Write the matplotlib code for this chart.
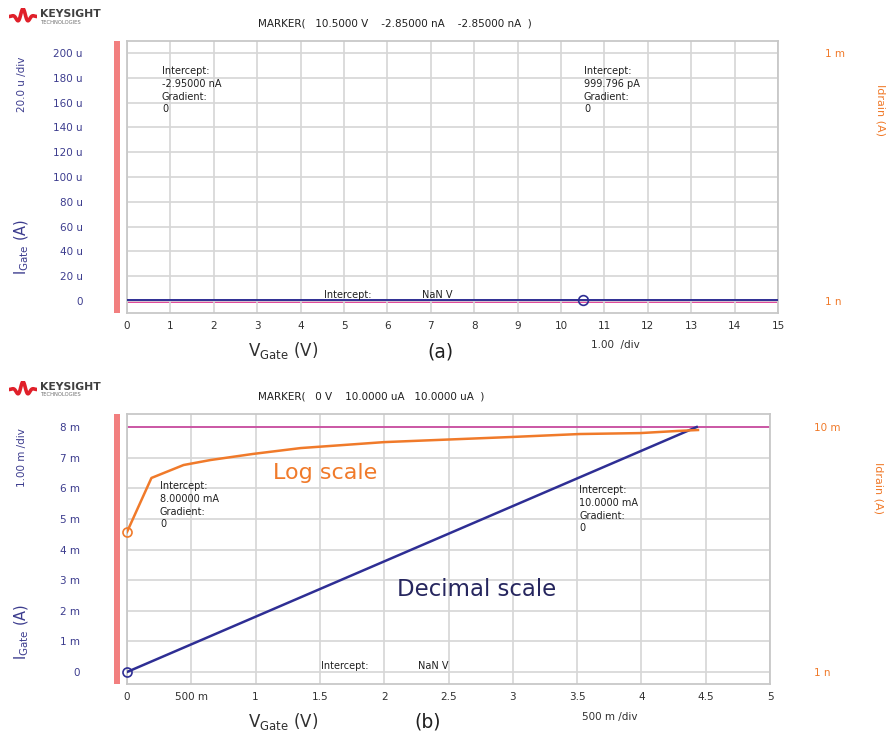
import numpy as np
import matplotlib
matplotlib.use("Agg")
import matplotlib.pyplot as plt
from matplotlib.patches import Rectangle
from matplotlib.ticker import FixedLocator, FixedFormatter, NullLocator
import matplotlib.transforms as mtransforms

# ---------------- data ----------------
# panel (a)
a_vgate = [0, 15]
a_igate = [-2.85e-9, -2.85e-9]
a_marker_v = 10.5
a_marker_i = -2.85e-9
a_intercept_left = -2.95e-9
a_intercept_right = 999.796e-12
a_xticks = list(range(0, 16))
a_xticklabels = [str(v) for v in a_xticks]
a_yticks = [0, 20e-6, 40e-6, 60e-6, 80e-6, 100e-6, 120e-6, 140e-6, 160e-6, 180e-6, 200e-6]
a_yticklabels = ["0", "20 u", "40 u", "60 u", "80 u", "100 u", "120 u", "140 u", "160 u", "180 u", "200 u"]
a_rticks = [1e-9, 1e-3]
a_rticklabels = ["1 n", "1 m"]

# panel (b)
b_vgate_lin = [0, 4.43]
b_igate_lin = [0, 8.0e-3]
b_vgate_log = [0, 0.19, 0.44, 0.65, 0.98, 1.35, 2.0, 3.0, 3.52, 3.99, 4.28, 4.44]
b_idrain_log = [1.0e-5, 3.5e-4, 8.2e-4, 1.14e-3, 1.7e-3, 2.5e-3, 3.7e-3, 5.2e-3, 6.3e-3, 6.7e-3, 7.7e-3, 8.2e-3]
b_intercept_left = 8.0e-3
b_xticks = [0, 0.5, 1, 1.5, 2, 2.5, 3, 3.5, 4, 4.5, 5]
b_xticklabels = ["0", "500 m", "1", "1.5", "2", "2.5", "3", "3.5", "4", "4.5", "5"]
b_yticks = [0, 1e-3, 2e-3, 3e-3, 4e-3, 5e-3, 6e-3, 7e-3, 8e-3]
b_yticklabels = ["0", "1 m", "2 m", "3 m", "4 m", "5 m", "6 m", "7 m", "8 m"]
b_rticks = [1e-9, 1e-2]
b_rticklabels = ["1 n", "10 m"]

# ---------------- style ----------------
W, H = 892, 740
BLUE = "#2e2e94"
NAVY = "#3c3c8e"
ORANGE = "#f07a2a"
MAGENTA = "#c8409c"
PINK = "#e0449a"
GRID = "#d6d6d6"
REDBAR = "#f27f7f"
DARK = "#303030"

plt.rcParams['font.family'] = ['DejaVu Sans']

fig = plt.figure(figsize=(W / 100, H / 100), dpi=100)
fig.patch.set_facecolor("white")


def frect(x0, y0, x1, y1):
    return [x0 / W, 1 - y1 / H, (x1 - x0) / W, (y1 - y0) / H]


def ftext(x, y, s, **kw):
    return fig.text(x / W, 1 - y / H, s, **kw)


def style_main(ax, xticks, xlabels, yticks, ylabels, xlim, ylim, ypad):
    ax.set_xlim(*xlim)
    ax.set_ylim(*ylim)
    ax.xaxis.set_major_locator(FixedLocator(xticks))
    ax.xaxis.set_major_formatter(FixedFormatter(xlabels))
    ax.yaxis.set_major_locator(FixedLocator(yticks))
    ax.yaxis.set_major_formatter(FixedFormatter(ylabels))
    ax.grid(True, color=GRID, lw=1.2)
    ax.set_axisbelow(True)
    for sp in ax.spines.values():
        sp.set_color("#c8c8c8")
        sp.set_linewidth(1.3)
    ax.tick_params(axis='x', length=0, pad=5.5, labelsize=7.5, labelcolor=DARK)
    ax.tick_params(axis='y', length=0, pad=ypad, labelsize=7.5, labelcolor=NAVY)


def style_twin(ax, ticks, labels, ylim, pad):
    ax.set_yscale("log")
    ax.set_ylim(*ylim)
    ax.yaxis.set_major_locator(FixedLocator(ticks))
    ax.yaxis.set_major_formatter(FixedFormatter(labels))
    ax.yaxis.set_minor_locator(NullLocator())
    ax.tick_params(axis='y', which='both', length=0, pad=pad, labelsize=7.5, labelcolor=ORANGE)
    for sp in ax.spines.values():
        sp.set_visible(False)


def redbar(ax, width_px):
    ax.add_patch(Rectangle((-13.5 / width_px, 0), 6.5 / width_px, 1, transform=ax.transAxes,
                           facecolor=REDBAR, edgecolor="none", clip_on=False, zorder=5))


def logo(y):
    lx = np.linspace(0, 1, 80)
    ly = np.sin(lx * 5 * np.pi) * np.exp(-((lx - 0.5) ** 2) / 0.06)
    lax = fig.add_axes(frect(9, y - 9, 37, y + 8))
    lax.plot(lx, ly, color="#e0202a", lw=2.6, solid_capstyle="round")
    lax.set_xlim(0, 1)
    lax.set_ylim(-1.1, 1.1)
    lax.axis("off")
    ftext(40, y - 3, "KEYSIGHT", fontsize=7.8, fontweight="bold", color="#404040", va="center")
    ftext(41, y + 5, "TECHNOLOGIES", fontsize=3.8, color="#707070", va="center")


def note(x, y, s):
    ftext(x, y, s, fontsize=7, color="#202020", va="top", ha="left", linespacing=1.35)


# ================= panel (a) =================
axA = fig.add_axes(frect(127, 41, 778, 313))
a_span = a_yticks[-1] - a_yticks[0]
a_m = a_span * 12 / 248
style_main(axA, a_xticks, a_xticklabels, a_yticks, a_yticklabels,
           (a_xticks[0], a_xticks[-1]), (a_yticks[0] - a_m, a_yticks[-1] + a_m), 32)
redbar(axA, 651)

axA2 = axA.twinx()
a_dec = np.log10(a_rticks[-1]) - np.log10(a_rticks[0])
a_dm = a_dec * 12 / 248
style_twin(axA2, a_rticks, a_rticklabels,
           (10 ** (np.log10(a_rticks[0]) - a_dm), 10 ** (np.log10(a_rticks[-1]) + a_dm)), 34)
axA2.set_xlim(axA.get_xlim())
pink_tr = mtransforms.offset_copy(axA2.transData, fig=fig, x=0, y=-1.1, units='dots')
axA2.plot([a_xticks[0], a_xticks[-1]], [a_intercept_right, a_intercept_right], color=PINK, lw=1.4,
          transform=pink_tr, zorder=2)

blue_tr = mtransforms.offset_copy(axA.transData, fig=fig, x=0, y=0.6, units='dots')
axA.set_zorder(axA2.get_zorder() + 1)
axA.patch.set_visible(False)
axA.plot(a_vgate, a_igate, color=BLUE, lw=1.4, transform=blue_tr, zorder=3)
axA.plot([a_marker_v], [a_marker_i], marker="o", ms=7, mfc="none", mec=BLUE, mew=1.2,
         transform=blue_tr, zorder=4)

logo(17)
ftext(258, 24, "MARKER(   10.5000 V    -2.85000 nA    -2.85000 nA  )", fontsize=7.5, color="#202020", va="center")
note(162, 66, "Intercept:\n-2.95000 nA\nGradient:\n0")
note(584, 66, "Intercept:\n999.796 pA\nGradient:\n0")
ftext(324, 295, "Intercept:", fontsize=7, color="#202020", va="center")
ftext(422, 295, "NaN V", fontsize=7, color="#202020", va="center")
ftext(22, 84, "20.0 u /div", fontsize=7.5, color=NAVY, rotation=90, ha="center", va="center")
ftext(22, 247, r"I$_{\mathregular{Gate}}$ (A)", fontsize=10.5, color=NAVY, rotation=90, ha="center", va="center")
ftext(880, 110, "Idrain (A)", fontsize=8, color=ORANGE, rotation=-90, ha="center", va="center")
ftext(283, 351, r"V$_{\mathregular{Gate}}$ (V)", fontsize=12, color=DARK, ha="center", va="center")
ftext(440, 352, "(a)", fontsize=13.5, color="#202020", ha="center", va="center")
ftext(615, 345, "1.00  /div", fontsize=7.5, color=DARK, ha="center", va="center")

# ================= panel (b) =================
axB = fig.add_axes(frect(127, 414, 770, 684))
b_unit = (b_yticks[-1] - b_yticks[0]) / 245
style_main(axB, b_xticks, b_xticklabels, b_yticks, b_yticklabels,
           (b_xticks[0], b_xticks[-1]), (b_yticks[0] - 12 * b_unit, b_yticks[-1] + 13 * b_unit), 34)
redbar(axB, 643)

axB2 = axB.twinx()
b_dpp = (np.log10(b_rticks[-1]) - np.log10(b_rticks[0])) / 245
style_twin(axB2, b_rticks, b_rticklabels,
           (10 ** (np.log10(b_rticks[0]) - 12 * b_dpp), 10 ** (np.log10(b_rticks[-1]) + 13 * b_dpp)), 32)
axB2.set_xlim(axB.get_xlim())

axB.axhline(b_intercept_left, color=MAGENTA, lw=1.2, zorder=2)
axB.plot(b_vgate_lin, b_igate_lin, color=BLUE, lw=1.8, zorder=3)
axB.plot([b_vgate_lin[0]], [b_igate_lin[0]], marker="o", ms=6.5, mfc="none", mec=BLUE, mew=1.2, zorder=4,
         clip_on=False)
axB2.plot(b_vgate_log, b_idrain_log, color=ORANGE, lw=1.8, zorder=3)
axB2.plot([b_vgate_log[0]], [b_idrain_log[0]], marker="o", ms=6.5, mfc="none", mec=ORANGE, mew=1.2,
          zorder=4, clip_on=False)

logo(390)
ftext(258, 397, "MARKER(   0 V    10.0000 uA   10.0000 uA  )", fontsize=7.5, color="#202020", va="center")
note(160, 481, "Intercept:\n8.00000 mA\nGradient:\n0")
note(579, 485, "Intercept:\n10.0000 mA\nGradient:\n0")
ftext(321, 666, "Intercept:", fontsize=7, color="#202020", va="center")
ftext(418, 666, "NaN V", fontsize=7, color="#202020", va="center")
ftext(273, 473, "Log scale", fontsize=16, color=ORANGE, ha="left", va="center")
ftext(397, 590, "Decimal scale", fontsize=16.5, color="#26265e", ha="left", va="center")
ftext(22, 458, "1.00 m /div", fontsize=7.5, color=NAVY, rotation=90, ha="center", va="center")
ftext(22, 632, r"I$_{\mathregular{Gate}}$ (A)", fontsize=10.5, color=NAVY, rotation=90, ha="center", va="center")
ftext(878, 488, "Idrain (A)", fontsize=8, color=ORANGE, rotation=-90, ha="center", va="center")
ftext(283, 722, r"V$_{\mathregular{Gate}}$ (V)", fontsize=12, color=DARK, ha="center", va="center")
ftext(428, 722, "(b)", fontsize=13.5, color="#202020", ha="center", va="center")
ftext(610, 717, "500 m /div", fontsize=7.5, color=DARK, ha="center", va="center")

fig.savefig("out.png", dpi=100, facecolor="white")
